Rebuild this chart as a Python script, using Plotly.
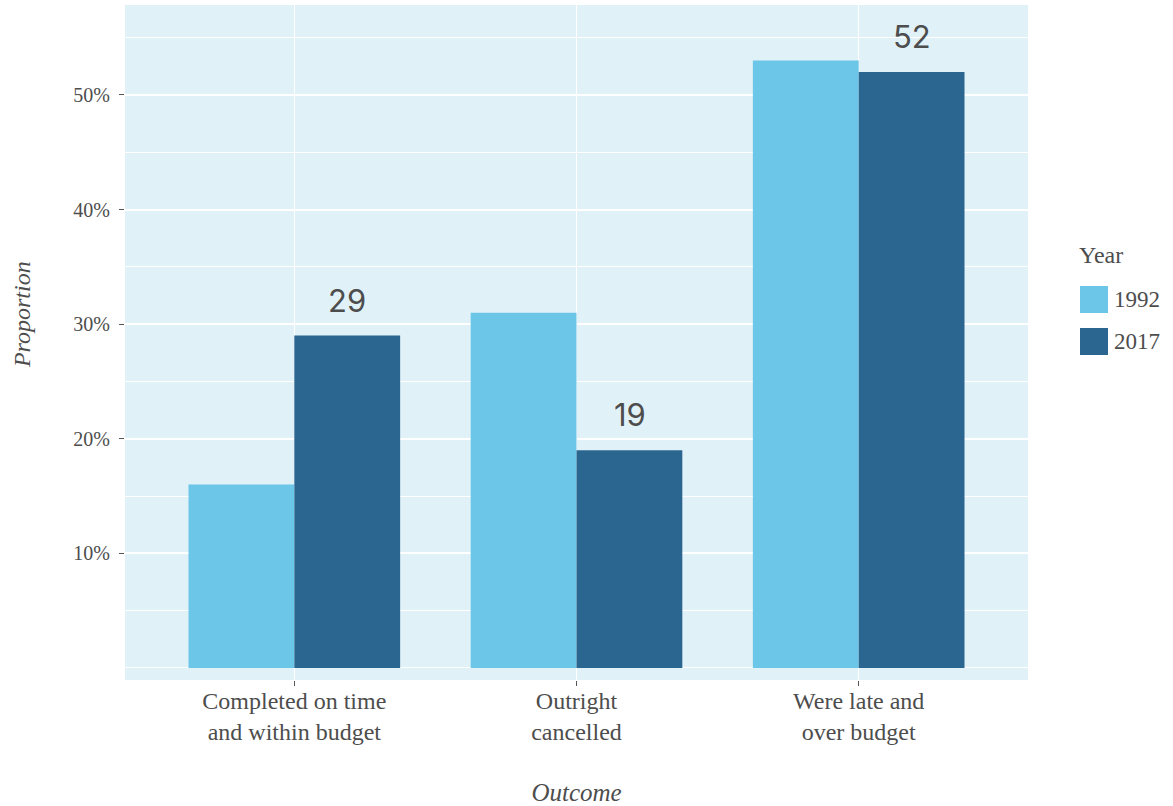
import plotly.graph_objects as go

categories = ["Completed on time<br>and within budget", "Outright<br>cancelled", "Were late and<br>over budget"]
years = ["1992", "2017"]
values_1992 = [16, 31, 53]
values_2017 = [29, 19, 52]
label_2017 = ["29", "19", "52"]
y_ticks = [10, 20, 30, 40, 50]
y_tick_labels = ["10%", "20%", "30%", "40%", "50%"]

c1992 = "#6BC6E8"
c2017 = "#2A6690"
colors = [c1992, c2017]
bg = "#E1F1F8"
txt = "#4D4D4D"
serif = "Liberation Serif, DejaVu Serif, serif"

fig = go.Figure()
fig.add_trace(go.Bar(x=categories, y=values_1992, name=years[0], marker=dict(color=c1992, line=dict(width=0)), showlegend=False))
fig.add_trace(go.Bar(x=categories, y=values_2017, name=years[1], marker=dict(color=c2017, line=dict(width=0)), showlegend=False))

for cat, v, lab in zip(categories, values_2017, label_2017):
    fig.add_annotation(x=cat, y=v, text=lab, showarrow=False, xshift=53, yshift=15,
                       yanchor="bottom", font=dict(family="Inter, Lato, sans-serif", size=31, color=txt))

# legend (drawn as keys in paper coordinates)
fig.add_annotation(xref="paper", yref="paper", x=1.0543, y=0.6296, text="Year", showarrow=False,
                   xanchor="left", yanchor="middle", font=dict(size=24, family=serif, color=txt))
for i, (yr, col) in enumerate(zip(years, colors)):
    top = 0.5837 - i * 0.0622
    fig.add_shape(type="rect", xref="paper", yref="paper", x0=1.0576, x1=1.0886,
                  y0=top - 0.0400, y1=top, fillcolor=col, line=dict(width=0))
    fig.add_annotation(xref="paper", yref="paper", x=1.0930, y=top - 0.0200, text=yr, showarrow=False,
                       xanchor="left", yanchor="middle", font=dict(size=23, family=serif, color=txt))

# y-axis title
fig.add_annotation(xref="paper", yref="paper", x=-0.114, y=0.5407, text="<i>Proportion</i>", showarrow=False,
                   textangle=-90, xanchor="center", yanchor="middle", font=dict(size=24, family=serif, color=txt))

fig.update_layout(
    width=1173, height=806,
    margin=dict(l=125, r=145, t=5, b=126),
    paper_bgcolor="white", plot_bgcolor=bg,
    barmode="group", bargap=0.25, bargroupgap=0,
    font=dict(family=serif, color=txt),
    showlegend=False,
    xaxis=dict(range=[-0.6, 2.6], showgrid=True, gridcolor="white", gridwidth=1.2,
               ticks="outside", ticklen=5, tickcolor="#555555", tickwidth=1,
               tickfont=dict(size=24, family=serif, color=txt), ticklabelstandoff=-6,
               title=dict(text="<i>Outcome</i>", font=dict(size=25, family=serif, color=txt), standoff=42),
               zeroline=False, showline=False, automargin=False),
    yaxis=dict(range=[-1.05, 57.85], tickvals=y_ticks, ticktext=y_tick_labels,
               showgrid=True, gridcolor="white", gridwidth=1.5,
               ticks="outside", ticklen=5, tickcolor="#555555", tickwidth=1,
               tickfont=dict(size=20, family=serif, color=txt), ticklabelstandoff=5,
               minor=dict(tickmode="linear", tick0=0, dtick=5, showgrid=True, gridcolor="white", gridwidth=1.2, ticks=""),
               zeroline=False, showline=False, automargin=False),
)

fig.write_html("out.html", post_script="document.body.style.margin='0px';", config={"displayModeBar": False})
